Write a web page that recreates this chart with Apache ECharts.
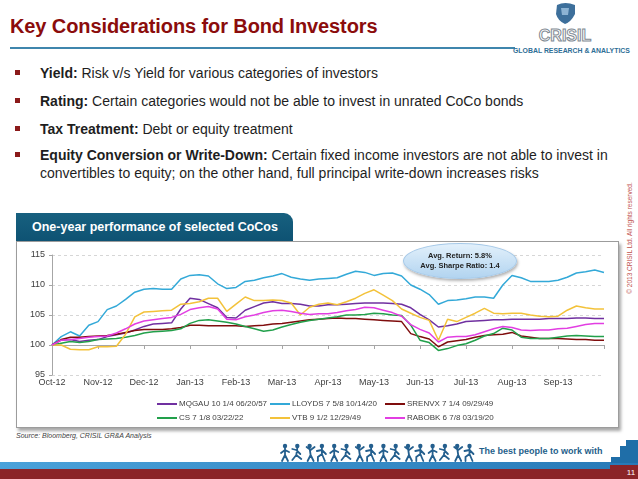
<!DOCTYPE html>
<html><head><meta charset="utf-8">
<script src="https://cdn.jsdelivr.net/npm/echarts@6/dist/echarts.min.js"></script>
<style>
body{margin:0;}
#page{position:relative;width:638px;height:479px;overflow:hidden;background:#fff;font-family:"Liberation Sans",Arial,sans-serif;}
.abs{position:absolute;white-space:nowrap;}
.title{left:10px;top:16px;font-size:20px;line-height:20px;font-weight:bold;color:#8b0c0c;letter-spacing:-0.1px;}
.rule{left:10px;top:47px;width:505px;height:2px;background:#3f86ad;}
.bl{left:40px;font-size:14px;line-height:16px;color:#1e1e1e;}
.sq{left:15px;width:5px;height:5px;background:#8b1a1a;}
.box{left:16px;top:241px;width:603px;height:187px;border:1px solid #9c9c9c;box-shadow:2px 3px 3px rgba(0,0,0,0.35);background:#fff;box-sizing:border-box;}
.tab{left:16px;top:213px;width:277px;height:28px;background:linear-gradient(#17607f,#0e5273);border-top-right-radius:9px;color:#fff;font-weight:bold;font-size:12.5px;line-height:28px;padding-left:16px;box-sizing:border-box;}
#chart{position:absolute;left:0;top:0;width:638px;height:479px;z-index:2;}
.bubble{left:403px;top:243px;width:114px;height:36px;border-radius:50%;background:linear-gradient(#e2f0fb,#b2d4f0);border:1px solid #a6c9e8;box-shadow:1px 2px 3px rgba(0,0,0,0.3);z-index:3;box-sizing:border-box;text-align:center;font-size:7.5px;font-weight:bold;color:#222;line-height:10px;padding-top:7px;}
.copy{left:566px;top:234px;width:128px;height:8px;font-size:6.5px;line-height:8px;color:#c0504d;text-align:center;transform:rotate(-90deg);transform-origin:64px 4px;}
.src{left:16px;top:432px;font-size:7px;font-style:italic;color:#404040;}
.motto{left:479px;top:446px;font-size:9px;font-weight:bold;color:#1f5f8b;}
</style></head>
<body><div id="page">
<div class="abs title">Key Considerations for Bond Investors</div>
<div class="abs rule"></div>
<svg class="abs" style="left:505px;top:0;" width="133" height="60">
  <path d="M52,5 Q60,1 70,5 L70,14 Q66,22 60,24 Q53,21 51,14 Z" fill="#3d6f9b"/>
  <path d="M56,8 L64,8 L63,15 L57,15 Z" fill="#8db3d3"/>
  <text x="60" y="41" text-anchor="middle" font-family="Liberation Sans,Arial" font-size="16" font-weight="bold" fill="#fff" stroke="#7f8a93" stroke-width="1">CRISIL</text>
  <text x="8" y="53" font-family="Liberation Sans,Arial" font-size="6.9" font-weight="bold" fill="#2e6e96">GLOBAL RESEARCH &amp; ANALYTICS</text>
</svg>
<div class="abs sq" style="top:70px"></div>
<div class="abs bl" style="top:65px"><b>Yield:</b> Risk v/s Yield for various categories of investors</div>
<div class="abs sq" style="top:98px"></div>
<div class="abs bl" style="top:93px"><b>Rating:</b> Certain categories would not be able to invest in unrated CoCo bonds</div>
<div class="abs sq" style="top:126px"></div>
<div class="abs bl" style="top:121px"><b>Tax Treatment:</b> Debt or equity treatment</div>
<div class="abs sq" style="top:152px"></div>
<div class="abs bl" style="top:147px"><b>Equity Conversion or Write-Down:</b> Certain fixed income investors are not able to invest in</div>
<div class="abs bl" style="top:165px">convertibles to equity; on the other hand, full principal write-down increases risks</div>
<div class="abs copy">© 2013 CRISIL Ltd. All rights reserved.</div>
<div class="abs box"></div>
<div class="abs tab">One-year performance of selected CoCos</div>
<div id="chart"></div>
<div class="abs bubble">Avg. Return: 5.8%<br>Avg. Sharpe Ratio: 1.4</div>
<div class="abs src">Source: Bloomberg, CRISIL GR&amp;A Analysis</div>
<svg id="figs" class="abs" style="left:0;top:440px;" width="638" height="39"><defs></defs></svg>
<div class="abs motto">The best people to work with</div>
</div>
<script>
// ---- data ----
const months = ['Oct-12','Nov-12','Dec-12','Jan-13','Feb-13','Mar-13','Apr-13','May-13','Jun-13','Jul-13','Aug-13','Sep-13'];
const xs = [0,0.2,0.4,0.6,0.8,1,1.2,1.4,1.6,1.8,2,2.2,2.4,2.6,2.8,3,3.2,3.4,3.6,3.8,4,4.2,4.4,4.6,4.8,5,5.2,5.4,5.6,5.8,6,6.2,6.4,6.6,6.8,7,7.2,7.4,7.6,7.8,8,8.2,8.4,8.6,8.8,9,9.2,9.4,9.6,9.8,10,10.2,10.4,10.6,10.8,11,11.2,11.4,11.6,11.8,12];
const names = ['MQGAU 10 1/4 06/20/57','LLOYDS 7 5/8 10/14/20','SRENVX 7 1/4 09/29/49','CS 7 1/8 03/22/22','VTB 9 1/2 12/29/49','RABOBK 6 7/8 03/19/20'];
const mqgau  = [100,100.8,100.9,100.6,100.8,100.9,101.4,101.7,102.0,102.5,103.1,103.5,103.6,103.7,106.0,107.8,107.6,106.9,106.2,104.6,104.5,105.8,106.4,107.0,107.2,106.9,106.9,106.8,106.5,106.5,106.7,106.7,106.8,106.9,107.0,107.0,107.0,106.9,106.8,106.2,105.1,104.2,103.0,103.2,103.5,103.9,104.0,104.1,104.2,104.2,104.3,104.3,104.3,104.3,104.4,104.4,104.4,104.5,104.5,104.4,104.4];
const lloyds = [100,101.4,102.2,101.5,103.3,103.9,105.9,106.5,107.6,108.8,109.3,109.4,109.3,109.3,111.0,111.6,111.7,111.5,110.2,109.4,109.6,110.6,110.8,111.2,111.5,111.9,111.3,111.0,110.8,111.0,111.1,111.2,111.8,112.3,112.1,111.6,111.9,112.0,111.5,110.0,109.3,108.4,106.8,107.4,107.5,107.7,108.0,108.0,107.8,110.0,111.6,111.2,110.6,110.6,110.6,110.8,111.3,112.0,112.2,112.5,112.1];
const srenvx = [100,100.9,101.3,101.3,101.4,101.5,101.6,101.8,102.1,102.4,102.6,102.6,102.6,102.7,102.9,103.3,103.3,103.2,103.2,103.2,103.2,103.1,103.2,103.3,103.5,103.6,103.8,104.0,104.2,104.3,104.4,104.5,104.4,104.4,104.3,104.2,104.1,104.0,103.9,101.9,101.4,101.0,99.7,100.5,100.7,100.9,101.3,101.6,101.7,101.8,102.1,101.5,101.3,101.1,101.1,101.1,101.0,100.9,100.9,100.8,100.8];
const cs     = [100,100.3,100.6,100.4,100.6,100.9,101.0,101.1,101.3,101.6,102.0,102.2,102.3,102.4,102.7,103.6,104.1,104.2,104.0,103.8,103.5,103.1,102.7,102.3,102.5,103.0,103.4,103.8,104.1,104.3,104.5,104.7,105.0,105.0,105.1,105.3,105.2,105.0,104.9,103.3,100.8,100.4,99.1,99.4,99.9,100.2,100.8,101.5,101.9,102.8,102.5,101.3,101.1,101.1,101.1,101.3,101.5,101.6,101.5,101.4,101.4];
const vtb    = [100,100.0,99.3,99.2,99.2,99.7,99.7,99.8,101.8,104.7,105.5,105.6,105.7,105.8,106.8,106.9,107.2,107.8,107.8,105.6,106.8,108.0,107.4,107.4,107.5,107.4,107.0,105.0,106.3,106.8,107.0,106.7,107.2,107.8,108.6,109.2,108.3,107.4,106.0,105.3,104.6,104.1,100.8,104.3,103.9,104.6,105.3,106.1,105.3,105.2,105.3,105.3,105.0,104.8,104.7,104.8,105.8,106.5,106.2,106.0,106.0];
const rabobk = [100,100.8,100.9,101.1,101.3,101.4,101.5,102.0,102.7,103.5,104.0,104.2,104.4,104.6,105.1,105.9,106.2,106.4,106.0,104.3,104.2,104.7,105.0,105.4,105.7,105.8,105.6,105.3,105.1,105.2,105.2,105.4,105.7,105.9,106.3,106.2,105.8,105.4,104.8,103.4,102.6,102.0,100.5,101.3,101.4,101.4,101.7,102.2,102.7,103.1,102.9,102.5,102.4,102.5,102.5,102.7,102.8,103.1,103.4,103.6,103.6];
const values = [mqgau, lloyds, srenvx, cs, vtb, rabobk];
const colors = ['#7030a0','#33a9d8','#7f0d0d','#22a04b','#f3c23a','#e23ee2'];

// ---- chart ----
const chart = echarts.init(document.getElementById('chart'), null, {renderer:'canvas'});
const FF = '"Liberation Sans", Arial, sans-serif';
const colX = [157, 270, 385];
const rowY = [400, 414];
chart.setOption({
  backgroundColor: 'transparent',
  animation: false,
  textStyle: {fontFamily: FF},
  grid: {left: 52, top: 255, width: 552, height: 120, containLabel: false, outerBoundsMode: 'none'},
  xAxis: [
    {type: 'value', min: 0, max: 12, interval: 1, position: 'bottom', offset: -30,
     axisLine: {show: true, lineStyle: {color: '#a6a6a6', width: 1}},
     axisTick: {show: true, inside: false, length: 4, lineStyle: {color: '#a6a6a6'}},
     axisLabel: {show: false}, splitLine: {show: false}},
    {type: 'value', min: 0, max: 12, interval: 1, position: 'bottom', offset: 0,
     axisLine: {show: false}, axisTick: {show: false}, splitLine: {show: false},
     axisLabel: {show: true, margin: 3, fontSize: 9, color: '#404040', fontFamily: FF,
                 formatter: v => months[Math.round(v)] || ''}}
  ],
  yAxis: {type: 'value', min: 95, max: 115, interval: 5,
    axisLine: {show: true, lineStyle: {color: '#a6a6a6'}},
    axisTick: {show: true, length: 3, lineStyle: {color: '#a6a6a6'}},
    axisLabel: {fontSize: 9, color: '#404040', margin: 7, fontFamily: FF},
    splitLine: {show: true, lineStyle: {color: '#d6d6d6', type: [3, 3], width: 1}}},
  legend: names.map((n, i) => ({
    data: [n], left: colX[i % 3], top: rowY[Math.floor(i / 3)], padding: 0,
    itemWidth: 20, itemHeight: 2, icon: 'rect', selectedMode: false,
    textStyle: {fontSize: 8, color: '#404040', fontFamily: FF, padding: [0, 0, 0, -3]}
  })),
  series: names.map((n, i) => ({
    name: n, type: 'line', xAxisIndex: 0, symbol: 'none', smooth: false,
    color: colors[i], lineStyle: {width: 1.5, color: colors[i]},
    data: xs.map((x, j) => [x, values[i][j]])
  }))
});

// ---- footer decoration (figures, bands) ----
const svg = document.getElementById('figs');
const NS = 'http://www.w3.org/2000/svg';
const poses = [
  'M0,2 L0,9 M0,4 L-4,7 M0,4 L4,6 M0,9 L-3,15 M0,9 L3,15',
  'M0,2 L-1,9 M-1,4 L-5,3 M-1,4 L3,8 M-1,9 L-5,14 M-1,9 L4,13',
  'M0,2 L1,9 M1,4 L-3,1 M1,4 L5,1 M1,9 L-2,15 M1,9 L4,15',
  'M0,2 L0,8 M0,4 L-5,5 M0,4 L4,8 M0,8 L-4,11 L-4,15 M0,8 L3,15'
];
function el(tag, attrs){const e=document.createElementNS(NS,tag);for(const k in attrs)e.setAttribute(k,attrs[k]);return e;}
for (let i = 0; i < 16; i++) {
  const x = 285 + i * 12.3, y = 6;
  svg.appendChild(el('circle', {cx: x, cy: y, r: 2.2, fill: '#245f8e'}));
  svg.appendChild(el('path', {d: poses[i % 4], transform: 'translate(' + x + ',' + y + ')', stroke: '#245f8e', 'stroke-width': 1.8, fill: 'none', 'stroke-linecap': 'round'}));
}
const g = el('linearGradient', {id: 'bg', x1: 0, y1: 0, x2: 1, y2: 0});
g.appendChild(el('stop', {offset: '0', 'stop-color': '#4aa2da'}));
g.appendChild(el('stop', {offset: '1', 'stop-color': '#2779b7'}));
svg.querySelector('defs').appendChild(g);
svg.appendChild(el('rect', {x: 0, y: 22, width: 638, height: 8, fill: 'url(#bg)'}));
svg.appendChild(el('rect', {x: 0, y: 29, width: 638, height: 10, fill: '#8b2428'}));
svg.appendChild(el('rect', {x: 610, y: 25, width: 28, height: 14, fill: '#8b2428'}));
svg.appendChild(el('rect', {x: 611, y: 17, width: 10, height: 6, fill: '#1f6ea8'}));
svg.appendChild(el('rect', {x: 620, y: 6, width: 7, height: 17, fill: '#1f6ea8'}));
svg.appendChild(el('rect', {x: 626, y: -1, width: 6, height: 24, fill: '#1f6ea8'}));
svg.appendChild(el('rect', {x: 631, y: -15, width: 7, height: 38, fill: '#1f6ea8'}));
const t = el('text', {x: 631, y: 35, 'text-anchor': 'middle', 'font-size': 8, fill: '#fff', 'font-family': 'Liberation Sans,Arial'});
t.textContent = '11'; svg.appendChild(t);
</script>
</body></html>
